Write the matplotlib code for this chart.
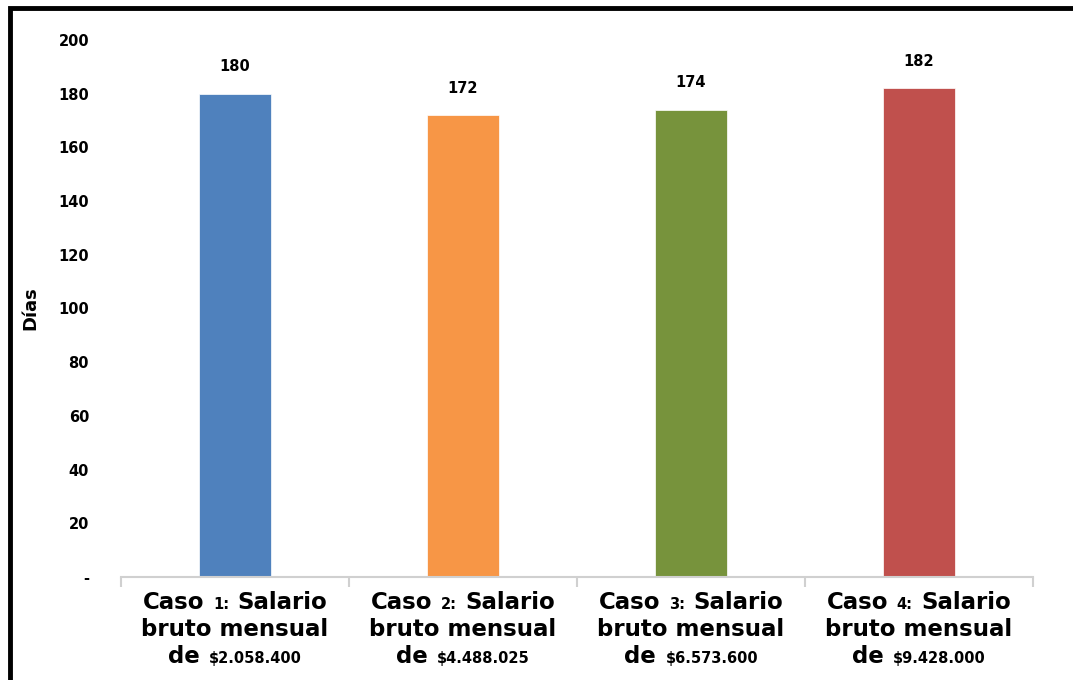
import matplotlib.pyplot as plt
from matplotlib.offsetbox import TextArea, HPacker, VPacker, AnnotationBbox
from matplotlib.patches import Rectangle

casos = ['1', '2', '3', '4']
salarios = ['$2.058.400', '$4.488.025', '$6.573.600', '$9.428.000']
dias = [180, 172, 174, 182]
colores = ['#4f81bd', '#f79646', '#77933c', '#c0504d']
yticks = [0, 20, 40, 60, 80, 100, 120, 140, 160, 180, 200]
ytick_labels = ['-'] + [str(v) for v in yticks[1:]]

fig = plt.figure(figsize=(10.73, 6.8), dpi=100)
ax = fig.add_axes([0.1128, 0.1515, 0.8499, 0.7897])

x = list(range(len(dias)))
ax.bar(x, dias, width=0.315, color=colores, edgecolor='white', linewidth=0.5)

for xi, v in zip(x, dias):
    ax.annotate(str(v), (xi, v), xytext=(0, 14), textcoords='offset points',
                ha='center', va='bottom', fontsize=10.5, fontweight='bold',
                family='DejaVu Sans')

ax.set_xlim(-0.5, 3.5)
ax.set_ylim(0, 200)
ax.set_yticks(yticks)
ax.set_yticklabels(ytick_labels, fontsize=10.5, fontweight='bold')
ax.tick_params(axis='y', length=0, pad=23)
ax.set_xticks([-0.5, 0.5, 1.5, 2.5, 3.5])
ax.set_xticklabels([])
ax.tick_params(axis='x', length=7, color='#d0d0d0', width=1.5)
for s in ['top', 'right', 'left']:
    ax.spines[s].set_visible(False)
ax.spines['bottom'].set_color('#d0d0d0')
ax.spines['bottom'].set_linewidth(1.5)
ax.set_ylabel('Días', fontsize=13, fontweight='bold', labelpad=14)

big = dict(fontsize=16.5, fontweight='bold', family='DejaVu Sans', color='black')
small = dict(fontsize=10.5, fontweight='bold', family='DejaVu Sans', color='black')
for xi, c, s in zip(x, casos, salarios):
    l1 = HPacker(children=[TextArea('Caso', textprops=big),
                           TextArea(c + ':', textprops=small),
                           TextArea('Salario', textprops=big)],
                 align='baseline', pad=0, sep=6)
    l2 = TextArea('bruto mensual', textprops=big)
    l3 = HPacker(children=[TextArea('de', textprops=big),
                           TextArea(s, textprops=small)],
                 align='baseline', pad=0, sep=7)
    box = VPacker(children=[l1, l2, l3], align='center', pad=0, sep=3)
    ab = AnnotationBbox(box, (xi, 0), xycoords=('data', 'axes fraction'),
                        box_alignment=(0.5, 1.0), xybox=(0, -10),
                        boxcoords='offset points', frameon=False,
                        annotation_clip=False)
    ax.add_artist(ab)

# black frame (cut on the right and bottom like the original)
fig.patches.append(Rectangle((0.0093, -0.05), 1.05, 1.038,
                             transform=fig.transFigure, fill=False,
                             edgecolor='black', linewidth=3.5))

fig.savefig('out.png', dpi=100)
